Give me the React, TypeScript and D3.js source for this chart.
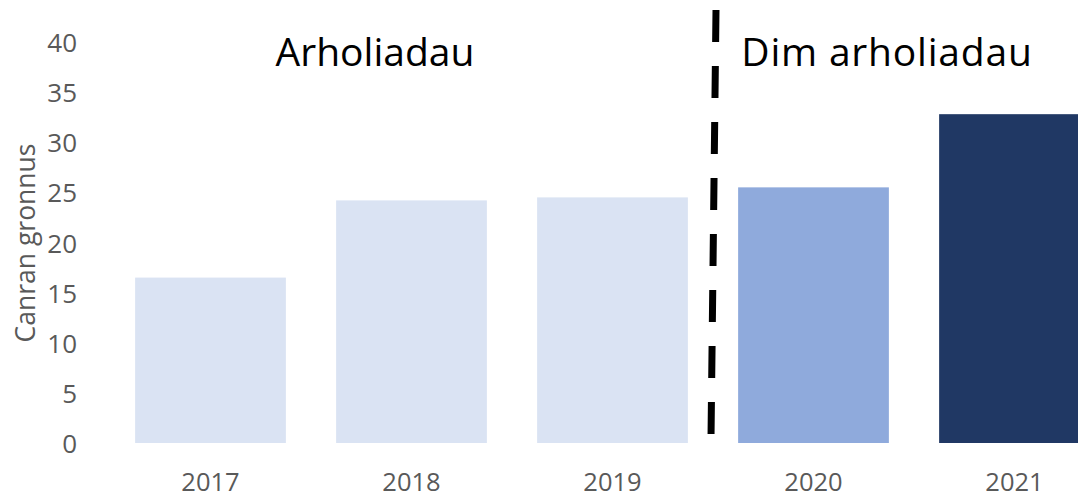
import React from "react";
import * as d3 from "d3";

const years = ["2017", "2018", "2019", "2020", "2021"];
const values = [16.5, 24.2, 24.5, 25.5, 32.8];
const barColors = ["#DAE3F3", "#DAE3F3", "#DAE3F3", "#8FAADC", "#203864"];
const yTicks = [0, 5, 10, 15, 20, 25, 30, 35, 40];
const yAxisTitle = "Canran gronnus";
const leftLabel = "Arholiadau";
const rightLabel = "Dim arholiadau";

const W = 1078;
const H = 500;
const FONT = "'Open Sans', 'Noto Sans', sans-serif";

export default function App() {
  const x = d3
    .scaleBand<string>()
    .domain(years)
    .range([110, 1115])
    .paddingInner(0.25)
    .paddingOuter(0.125);
  const y = d3.scaleLinear().domain([0, 40]).range([443, 42]);

  const splitX =
    ((x("2019") as number) + x.bandwidth() + (x("2020") as number)) / 2;

  return (
    <svg
      width={W}
      height={H}
      style={{ position: "absolute", left: 0, top: 0, background: "#fff" }}
    >
      {years.map((yr, i) => (
        <rect
          key={yr}
          x={x(yr)}
          y={y(values[i])}
          width={x.bandwidth()}
          height={y(0) - y(values[i])}
          fill={barColors[i]}
        />
      ))}
      {yTicks.map((t) => (
        <text
          key={t}
          x={77}
          y={y(t)}
          textAnchor="end"
          dominantBaseline="central"
          fontFamily={FONT}
          fontSize={26}
          fill="#595959"
        >
          {t}
        </text>
      ))}
      {years.map((yr) => (
        <text
          key={yr}
          x={(x(yr) as number) + x.bandwidth() / 2}
          y={481}
          textAnchor="middle"
          dominantBaseline="central"
          fontFamily={FONT}
          fontSize={25.5}
          fill="#595959"
        >
          {yr}
        </text>
      ))}
      <text
        transform={`translate(25,243) rotate(-90)`}
        textAnchor="middle"
        dominantBaseline="central"
        fontFamily={FONT}
        fontSize={26.5}
        fill="#595959"
      >
        {yAxisTitle}
      </text>
      <line
        x1={splitX + 3}
        y1={10}
        x2={splitX - 2}
        y2={438}
        stroke="#000"
        strokeWidth={7}
        strokeDasharray="32 24"
      />
      <text
        x={375}
        y={50}
        textAnchor="middle"
        dominantBaseline="central"
        fontFamily={FONT}
        fontSize={39}
        fill="#000"
      >
        {leftLabel}
      </text>
      <text
        x={887}
        y={50}
        textAnchor="middle"
        dominantBaseline="central"
        fontFamily={FONT}
        fontSize={39}
        letterSpacing={0.8}
        fill="#000"
      >
        {rightLabel}
      </text>
    </svg>
  );
}
